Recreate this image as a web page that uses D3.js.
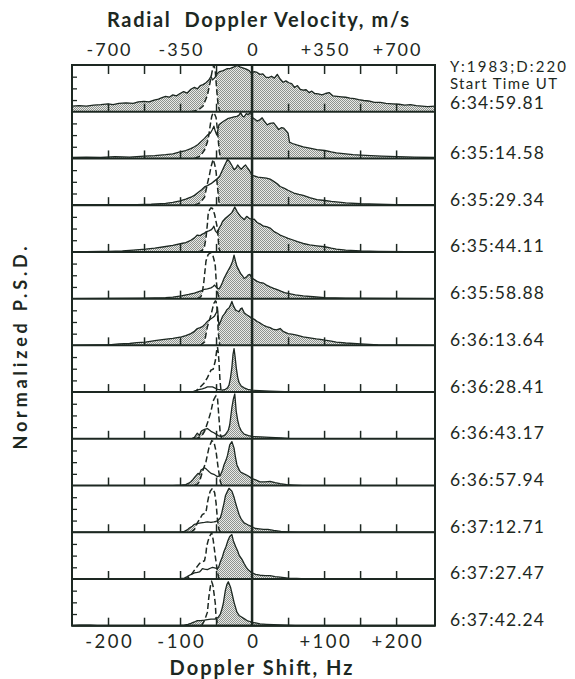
<!DOCTYPE html>
<html><head><meta charset="utf-8">
<script src="https://cdn.jsdelivr.net/npm/d3@7"></script>
<style>
html,body{margin:0;padding:0;background:#fff;}
svg{display:block;}
text{font-family:Lato,"DejaVu Sans",sans-serif;fill:#1d2822;}
</style></head><body>
<svg id="chart" width="575" height="679"></svg>
<script>
// ---------- data ----------
const startTimes = ["6:34:59.81","6:35:14.58","6:35:29.34","6:35:44.11","6:35:58.88","6:36:13.64",
  "6:36:28.41","6:36:43.17","6:36:57.94","6:37:12.71","6:37:27.47","6:37:42.24"];
const headerLines = ["Y:1983;D:220","Start Time UT"];
const shiftTicks = [-200,-150,-100,-50,50,100,150,200];
const shiftLabels = [-200,-100,0,100,200];
const velocityLabels = [-700,-350,0,350,700];
const psdTicks = [0.25,0.5,0.75];

const p1Solid = [[-250,0.12],[-240,0.13],[-230,0.12],[-220,0.14],[-210,0.15],[-200,0.17],[-193,0.15],[-185,0.18],[-175,0.19],[-165,0.18],[-158,0.21],[-150,0.22],[-143,0.21],[-136,0.25],[-130,0.27],[-125,0.30],[-120,0.33],[-115,0.31],[-110,0.36],[-105,0.34],[-100,0.39],[-95,0.43],[-90,0.40],[-85,0.48],[-80,0.52],[-76,0.49],[-72,0.56],[-68,0.58],[-64,0.62],[-60,0.68],[-57,0.76],[-55,0.68],[-52,0.72],[-48,0.82],[-45,0.86],[-40,0.88],[-35,0.92],[-30,0.93],[-25,0.96],[-21,0.99],[-17,0.96],[-13,0.94],[-8,0.91],[-4,0.88],[-1,0.82],[3,0.86],[7,0.84],[11,0.80],[15,0.81],[19,0.74],[23,0.73],[27,0.76],[31,0.72],[35,0.80],[39,0.70],[43,0.63],[47,0.66],[51,0.62],[55,0.60],[59,0.52],[63,0.56],[67,0.48],[71,0.46],[75,0.47],[79,0.41],[83,0.44],[87,0.39],[92,0.38],[97,0.36],[102,0.39],[107,0.41],[112,0.34],[118,0.33],[124,0.32],[130,0.31],[136,0.29],[142,0.28],[148,0.26],[155,0.24],[162,0.23],[170,0.20],[178,0.20],[186,0.18],[195,0.17],[204,0.16],[212,0.14],[220,0.15],[228,0.13],[236,0.12],[244,0.11],[254,0.12]];
const p1Dash = [[-85,0],[-75,0.03],[-68,0.12],[-62,0.35],[-58,0.65],[-55,0.9],[-53,1.0],[-51,0.85],[-49,0.45],[-47,0.12],[-45,0.02],[-43,0]];

const p2Solid = [[-250,0.02],[-230,0.03],[-210,0.02],[-190,0.04],[-170,0.03],[-150,0.05],[-135,0.06],[-120,0.08],[-110,0.10],[-100,0.14],[-92,0.17],[-85,0.21],[-80,0.25],[-75,0.30],[-71,0.36],[-66,0.43],[-62,0.50],[-58,0.54],[-55,0.62],[-53,0.69],[-51,0.58],[-49,0.50],[-46,0.72],[-42,0.77],[-39,0.80],[-34,0.85],[-30,0.87],[-25,0.89],[-21,0.90],[-18,0.93],[-16,0.98],[-13,0.90],[-11,0.89],[-8,0.96],[-5,0.94],[-2,0.99],[1,0.87],[4,0.84],[7,0.80],[10,0.82],[14,0.87],[17,0.80],[21,0.72],[25,0.75],[30,0.76],[34,0.68],[37,0.62],[41,0.66],[44,0.65],[48,0.58],[50,0.54],[52,0.35],[56,0.32],[62,0.29],[71,0.25],[80,0.22],[90,0.19],[101,0.17],[110,0.14],[117,0.12],[130,0.10],[140,0.08],[151,0.07],[165,0.06],[180,0.05],[202,0.04],[225,0.03],[254,0.02]];
const p2Dash = [[-80,0],[-72,0.05],[-66,0.18],[-62,0.35],[-60,0.50],[-58,0.72],[-56,0.90],[-54,0.98],[-52,0.95],[-50,0.88],[-48,0.6],[-47,0.4],[-45.5,0.15],[-44,0.03],[-42,0]];

const p3Solid = [[-250,0.01],[-200,0.01],[-160,0.01],[-140,0.02],[-120,0.04],[-110,0.06],[-100,0.09],[-92,0.13],[-85,0.17],[-80,0.21],[-75,0.27],[-70,0.33],[-66,0.39],[-62,0.42],[-57,0.46],[-52,0.52],[-48,0.57],[-45,0.62],[-42,0.72],[-39,0.82],[-36,0.92],[-34,0.98],[-31,0.93],[-28,0.85],[-25,0.76],[-22,0.80],[-20,0.86],[-17,0.80],[-15,0.77],[-12,0.82],[-9,0.86],[-6,0.79],[-4,0.75],[0,0.64],[4,0.62],[8,0.60],[14,0.59],[20,0.58],[25,0.56],[30,0.51],[35,0.46],[39,0.40],[45,0.36],[50,0.32],[58,0.26],[65,0.23],[71,0.21],[80,0.16],[90,0.12],[101,0.10],[110,0.08],[117,0.07],[130,0.05],[151,0.03],[175,0.02],[200,0.01],[254,0.01]];
const p3Dash = [[-80,0],[-72,0.05],[-66,0.17],[-62,0.46],[-59,0.66],[-57,0.82],[-55,0.93],[-54,0.98],[-52,0.88],[-50,0.72],[-48,0.39],[-46,0.08],[-44,0]];

const p4Solid = [[-250,0],[-210,0.01],[-199,0.01],[-180,0.02],[-165,0.04],[-148,0.06],[-135,0.08],[-122,0.11],[-110,0.14],[-98,0.18],[-92,0.20],[-85,0.25],[-80,0.30],[-76,0.36],[-72,0.35],[-69,0.38],[-66,0.40],[-64,0.43],[-60,0.45],[-57,0.47],[-55,0.50],[-53,0.55],[-51,0.45],[-48,0.40],[-46,0.50],[-43,0.58],[-41,0.65],[-37,0.72],[-34,0.76],[-30,0.81],[-28,0.84],[-26,0.90],[-24,0.96],[-22,0.90],[-21,0.87],[-18,0.80],[-16,0.76],[-13,0.72],[-11,0.69],[-8,0.75],[-7,0.76],[-4,0.72],[0,0.69],[3,0.70],[7,0.63],[11,0.60],[16,0.55],[20,0.54],[25,0.51],[30,0.44],[35,0.40],[39,0.36],[44,0.33],[50,0.29],[56,0.26],[63,0.22],[71,0.18],[80,0.15],[90,0.13],[101,0.11],[110,0.08],[117,0.06],[130,0.04],[151,0.02],[175,0.01],[254,0]];
const p4Dash = [[-75,0],[-69,0.03],[-66,0.12],[-64,0.29],[-62,0.6],[-61,0.8],[-59,0.9],[-57,0.94],[-55,0.93],[-54,0.90],[-52,0.80],[-50,0.65],[-48,0.5],[-47,0.28],[-46,0.07],[-44,0]];

const p5Solid = [[-250,0],[-150,0.01],[-120,0.02],[-110,0.03],[-98,0.06],[-88,0.09],[-80,0.12],[-76,0.14],[-70,0.17],[-66,0.20],[-62,0.21],[-57,0.23],[-54,0.26],[-52,0.29],[-50,0.25],[-48,0.22],[-46,0.21],[-44,0.25],[-41,0.35],[-39,0.43],[-36,0.52],[-34,0.58],[-30,0.69],[-27,0.80],[-25,0.93],[-23,0.80],[-21,0.69],[-18,0.60],[-16,0.54],[-13,0.48],[-11,0.43],[-8,0.46],[-5,0.51],[-3,0.52],[-1,0.45],[2,0.42],[7,0.37],[12,0.34],[16,0.33],[20,0.29],[25,0.25],[30,0.22],[34,0.20],[40,0.16],[45,0.13],[50,0.11],[60,0.08],[71,0.06],[85,0.04],[101,0.02],[130,0.01],[254,0]];
const p5Dash = [[-76,0],[-71,0.04],[-69,0.14],[-67,0.35],[-66,0.5],[-64,0.8],[-62,0.9],[-61,0.94],[-59,0.97],[-57,0.98],[-55,0.95],[-54,0.9],[-52,0.78],[-51,0.69],[-50,0.43],[-48,0.14],[-46,0.02],[-44,0]];

const p6Solid = [[-250,0],[-215,0.01],[-199,0.01],[-185,0.03],[-170,0.04],[-160,0.06],[-148,0.07],[-135,0.10],[-122,0.13],[-110,0.15],[-98,0.18],[-92,0.21],[-85,0.25],[-80,0.30],[-76,0.36],[-72,0.38],[-69,0.40],[-65,0.46],[-62,0.51],[-59,0.55],[-57,0.57],[-54,0.60],[-52,0.63],[-49,0.72],[-48,0.81],[-47,0.6],[-46,0.43],[-44,0.50],[-41,0.62],[-38,0.68],[-35,0.76],[-32,0.80],[-30,0.86],[-28,0.94],[-26,0.85],[-23,0.76],[-21,0.74],[-18,0.72],[-16,0.78],[-14,0.80],[-11,0.70],[-8,0.66],[-4,0.62],[0,0.58],[4,0.55],[7,0.51],[11,0.48],[16,0.43],[20,0.40],[25,0.38],[30,0.34],[34,0.33],[39,0.36],[43,0.30],[50,0.25],[55,0.24],[62,0.22],[71,0.18],[80,0.16],[89,0.14],[95,0.13],[101,0.11],[110,0.09],[117,0.07],[130,0.05],[151,0.03],[175,0.01],[254,0]];
const p6Dash = [[-72,0],[-66,0.07],[-62,0.4],[-59,0.55],[-57,0.65],[-55,0.78],[-53,0.9],[-51,0.95],[-50,0.94],[-48,0.72],[-47,0.29],[-45,0.02],[-43,0]];

const p7Solid = [[-250,0],[-90,0],[-82,0.01],[-78,0.03],[-74,0.05],[-69,0.07],[-65,0.09],[-62,0.11],[-58,0.11],[-55,0.11],[-52,0.09],[-48,0.06],[-44,0.05],[-41,0.04],[-37,0.06],[-34,0.09],[-32,0.15],[-30,0.30],[-28,0.53],[-26.5,0.80],[-25,0.93],[-23.5,0.75],[-22,0.53],[-20,0.32],[-18,0.20],[-15,0.13],[-11,0.09],[-6,0.06],[0,0.04],[10,0.03],[25,0.02],[45,0.01],[60,0],[254,0]];
const p7Dash = [[-82,0],[-78,0.02],[-73,0.09],[-66,0.2],[-62,0.31],[-57,0.47],[-54,0.49],[-51,0.67],[-49,0.9],[-48,0.96],[-47,0.85],[-46,0.67],[-44.5,0.24],[-43,0.02],[-41,0]];

const p8Solid = [[-250,0],[-90,0],[-83,0.01],[-80,0.03],[-77,0.10],[-76,0.12],[-73,0.07],[-71,0.15],[-70,0.17],[-66,0.20],[-62,0.22],[-57,0.16],[-53,0.13],[-50,0.10],[-47,0.07],[-44,0.05],[-40,0.06],[-37,0.09],[-33,0.18],[-31,0.30],[-28,0.67],[-26,0.85],[-24,0.96],[-22,0.59],[-20,0.40],[-18,0.27],[-15,0.17],[-11,0.10],[-5,0.07],[0,0.05],[12,0.04],[25,0.03],[40,0.02],[50,0.01],[70,0],[254,0]];
const p8Dash = [[-80,0],[-76,0.01],[-70,0.06],[-66,0.16],[-61,0.38],[-57,0.59],[-54,0.81],[-51,0.90],[-50,0.92],[-48,0.88],[-46,0.45],[-44,0.09],[-42,0]];

const p9Solid = [[-250,0],[-110,0],[-98,0.01],[-92,0.02],[-88,0.05],[-85,0.08],[-82,0.13],[-79,0.19],[-75,0.26],[-73,0.24],[-71,0.33],[-68,0.36],[-66,0.38],[-64,0.36],[-62,0.33],[-60,0.30],[-57,0.26],[-53,0.24],[-50,0.21],[-48,0.19],[-46,0.20],[-44,0.22],[-41,0.33],[-39,0.44],[-36,0.55],[-34,0.65],[-31,0.87],[-28,0.94],[-25,0.80],[-23,0.60],[-21,0.44],[-18,0.34],[-16,0.29],[-11,0.25],[-7,0.22],[-3,0.18],[0,0.15],[5,0.12],[11,0.08],[18,0.08],[25,0.09],[32,0.06],[39,0.04],[48,0.02],[57,0.01],[70,0],[254,0]];
const p9Dash = [[-80,0],[-76,0.03],[-73,0.08],[-69,0.29],[-64,0.51],[-60,0.80],[-56,0.96],[-53,0.94],[-50,0.73],[-47,0.37],[-44,0.08],[-42,0]];

const p10Solid = [[-250,0],[-105,0],[-98,0.01],[-94,0.02],[-90,0.05],[-87,0.09],[-83,0.13],[-80,0.17],[-75,0.19],[-71,0.20],[-66,0.21],[-62,0.22],[-57,0.21],[-53,0.22],[-50,0.23],[-48,0.25],[-46,0.28],[-44,0.31],[-42,0.42],[-41,0.49],[-39,0.62],[-37,0.78],[-34,0.88],[-32,0.94],[-30,0.91],[-28,0.88],[-25,0.75],[-23,0.63],[-20,0.48],[-18,0.38],[-15,0.28],[-11,0.20],[-6,0.16],[-2,0.13],[2,0.10],[5,0.08],[10,0.07],[16,0.06],[22,0.06],[30,0.04],[40,0.02],[50,0.01],[65,0],[254,0]];
const p10Dash = [[-85,0],[-80,0.06],[-76,0.2],[-72,0.3],[-69,0.38],[-64,0.42],[-62,0.63],[-60,0.78],[-58,0.88],[-55,0.94],[-52,0.85],[-50,0.63],[-48,0.27],[-46,0.06],[-44,0]];

const p11Solid = [[-250,0],[-110,0],[-100,0.01],[-94,0.02],[-90,0.05],[-87,0.08],[-83,0.11],[-80,0.13],[-76,0.14],[-73,0.15],[-71,0.18],[-69,0.22],[-66,0.21],[-62,0.20],[-58,0.23],[-55,0.25],[-52,0.24],[-48,0.22],[-46,0.27],[-44,0.37],[-41,0.48],[-39,0.59],[-36,0.70],[-34,0.80],[-31,0.91],[-28,0.95],[-26,0.82],[-23,0.70],[-20,0.60],[-18,0.51],[-14,0.42],[-11,0.33],[-8,0.25],[-5,0.19],[0,0.13],[5,0.10],[11,0.08],[18,0.07],[25,0.07],[32,0.05],[39,0.04],[50,0.02],[62,0.01],[75,0],[254,0]];
const p11Dash = [[-95,0],[-89,0.02],[-84,0.1],[-80,0.19],[-76,0.27],[-73,0.33],[-69,0.37],[-66,0.39],[-64,0.55],[-63,0.70],[-61,0.82],[-59,0.91],[-56,0.99],[-54,0.84],[-51,0.48],[-48,0.15],[-46,0]];

const p12Solid = [[-250,0],[-240,0.01],[-225,0.01],[-215,0],[-100,0],[-94,0.01],[-89,0.03],[-85,0.05],[-80,0.08],[-76,0.11],[-71,0.11],[-66,0.12],[-62,0.13],[-57,0.14],[-52,0.14],[-50,0.15],[-47,0.18],[-44,0.25],[-42,0.35],[-40,0.47],[-37,0.76],[-35,0.88],[-33,0.94],[-30,0.83],[-28,0.70],[-25,0.50],[-21,0.29],[-18,0.22],[-14,0.18],[-10,0.14],[-7,0.11],[-3,0.09],[0,0.07],[5,0.06],[11,0.04],[20,0.03],[30,0.02],[45,0.01],[60,0],[254,0]];
const p12Dash = [[-70,0],[-66,0.11],[-62,0.29],[-60,0.61],[-58,0.83],[-57,0.90],[-56,0.94],[-55,0.90],[-54,0.83],[-51,0.47],[-50,0.18],[-48,0.04],[-46,0]];

const solids = [p1Solid,p2Solid,p3Solid,p4Solid,p5Solid,p6Solid,p7Solid,p8Solid,p9Solid,p10Solid,p11Solid,p12Solid];
const dashes = [p1Dash,p2Dash,p3Dash,p4Dash,p5Dash,p6Dash,p7Dash,p8Dash,p9Dash,p10Dash,p11Dash,p12Dash];

// ---------- layout ----------
const ink = "#1d2822";
const L = 72, R = 435, T = 65, B = 625.7;
const nP = startTimes.length, ph = (B - T) / nP;
const HZ_TO_MS = 3.5;
const x = d3.scaleLinear().domain([-250, 254]).range([L, R]);
const xv = d3.scaleLinear().domain([-250 * HZ_TO_MS, 254 * HZ_TO_MS]).range([L, R]);
const fmtSigned = d => d > 0 ? "+" + d : (d < 0 ? "-" + Math.abs(d) : "0");

const svg = d3.select("#chart");
const defs = svg.append("defs");
const pat = defs.append("pattern").attr("id","stip").attr("width",2).attr("height",2)
  .attr("patternUnits","userSpaceOnUse");
pat.append("rect").attr("width",2).attr("height",2).attr("fill","#e9eae7");
pat.append("rect").attr("x",0).attr("y",0).attr("width",1).attr("height",1).attr("fill","#8d928e");
pat.append("rect").attr("x",1).attr("y",1).attr("width",1).attr("height",1).attr("fill","#8d928e");

function interp(arr, f, outside) {
  if (f < arr[0][0] || f > arr[arr.length-1][0]) return outside === undefined ? (f < arr[0][0] ? arr[0][1] : arr[arr.length-1][1]) : outside;
  for (let k = 1; k < arr.length; k++) {
    if (f <= arr[k][0]) {
      const a = arr[k-1], b = arr[k];
      const t = (f - a[0]) / (b[0] - a[0] || 1);
      return a[1] + t * (b[1] - a[1]);
    }
  }
  return arr[arr.length-1][1];
}

for (let i = 0; i < nP; i++) {
  const pt = T + i * ph, pb = pt + ph;
  const y = d3.scaleLinear().domain([0, 1]).range([pb, pt]);
  const g = svg.append("g");
  defs.append("clipPath").attr("id","clip"+i).append("rect")
    .attr("x", L).attr("y", pt - 0.5).attr("width", R - L).attr("height", ph + 0.5);
  const gc = g.append("g").attr("clip-path","url(#clip"+i+")");
  const s = solids[i], dsh = dashes[i];
  let fs = s.map(p => p[0]).concat(dsh.map(p => p[0]));
  for (let f = dsh[0][0]; f <= dsh[dsh.length-1][0]; f += 0.25) fs.push(f);
  fs = Array.from(new Set(fs.map(f => +f.toFixed(3)))).sort((a,b) => a-b);
  const merged = fs.map(f => ({f, s: interp(s, f), d: interp(dsh, f, 0)}));
  gc.append("path").datum(merged)
    .attr("fill","url(#stip)")
    .attr("d", d3.area().x(d => x(d.f)).y0(d => y(Math.min(d.s, d.d))).y1(d => y(d.s)));
  gc.append("path").datum(s).attr("fill","none").attr("stroke",ink).attr("stroke-width",1.3)
    .attr("stroke-linejoin","round")
    .attr("d", d3.line().x(d => x(d[0])).y(d => y(d[1])));
  gc.append("path").datum(dsh).attr("fill","none").attr("stroke",ink).attr("stroke-width",1.5)
    .attr("stroke-dasharray","6,3")
    .attr("d", d3.line().x(d => x(d[0])).y(d => y(d[1])));

  const bt = g.append("g").attr("transform",`translate(0,${pb})`)
    .call(d3.axisBottom(x).tickValues(shiftTicks).tickSize(-8).tickFormat(""));
  bt.select(".domain").remove();
  bt.selectAll("line").attr("stroke",ink).attr("stroke-width",1.5);
  const lt = g.append("g").attr("transform",`translate(${L},0)`)
    .call(d3.axisLeft(y).tickValues(psdTicks).tickSize(-5).tickFormat(""));
  lt.select(".domain").remove();
  lt.selectAll("line").attr("stroke",ink).attr("stroke-width",1.3);
  g.append("line").attr("x1",L).attr("x2",R).attr("y1",pb).attr("y2",pb)
    .attr("stroke",ink).attr("stroke-width",2);

  svg.append("text").attr("x",450).attr("y", i === 0 ? pb - 2.5 : pb + 0.5)
    .attr("font-size",17.5).style("letter-spacing","1.1px").text(startTimes[i]);
}

// header lines on the right
headerLines.forEach((t, k) => {
  svg.append("text").attr("x",450).attr("y",72 + k*17).attr("font-size",15)
    .attr("textLength", k === 0 ? 116 : 107).attr("lengthAdjust","spacing").text(t);
});

// top ticks
const tt = svg.append("g").attr("transform",`translate(0,${T})`)
  .call(d3.axisTop(x).tickValues(shiftTicks).tickSize(-9).tickFormat(""));
tt.select(".domain").remove();
tt.selectAll("line").attr("stroke",ink).attr("stroke-width",1.5);

// top velocity labels
const tv = svg.append("g").attr("transform",`translate(0,${T})`)
  .call(d3.axisTop(xv).tickValues(velocityLabels).tickSize(0).tickPadding(9.5).tickFormat(fmtSigned));
tv.select(".domain").remove();
tv.attr("font-size",18);
tv.selectAll("text").style("letter-spacing","2px").attr("dx",1);

// bottom shift labels
const bv = svg.append("g").attr("transform",`translate(0,${B})`)
  .call(d3.axisBottom(x).tickValues(shiftLabels).tickSize(0).tickPadding(9).tickFormat(fmtSigned));
bv.select(".domain").remove();
bv.attr("font-size",18.5);
bv.selectAll("text").style("letter-spacing","2.5px").attr("dx",1.25);

// zero line and frame
svg.append("line").attr("x1",x(0)).attr("x2",x(0)).attr("y1",T).attr("y2",B)
  .attr("stroke",ink).attr("stroke-width",2.5);
svg.append("rect").attr("x",L).attr("y",T).attr("width",R-L).attr("height",B-T)
  .attr("fill","none").attr("stroke",ink).attr("stroke-width",2);

// titles
svg.append("text").attr("x",258).attr("y",27).attr("text-anchor","middle")
  .attr("font-size",20).attr("font-weight","bold").attr("textLength",302).attr("lengthAdjust","spacing")
  .style("white-space","pre").text("Radial  Doppler Velocity, m/s");
svg.append("text").attr("x",261).attr("y",675).attr("text-anchor","middle")
  .attr("font-size",20).attr("font-weight","bold").attr("textLength",183).attr("lengthAdjust","spacing")
  .text("Doppler Shift, Hz");
svg.append("text").attr("transform","translate(27,348) rotate(-90)").attr("text-anchor","middle")
  .attr("font-size",18).attr("font-weight","bold").attr("textLength",203).attr("lengthAdjust","spacing")
  .text("Normalized P.S.D.");
</script>
</body></html>
